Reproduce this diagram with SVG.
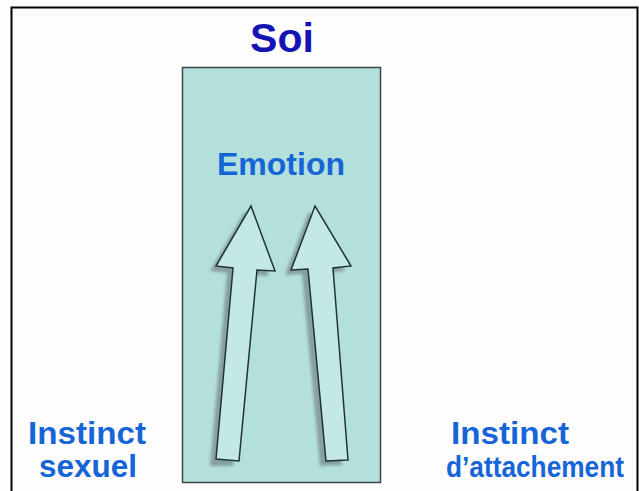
<svg xmlns="http://www.w3.org/2000/svg" width="639" height="491" viewBox="0 0 639 491">
<style>
.lbl{font-family:"Liberation Sans",Arial,sans-serif;font-weight:bold;fill:#1565d8;text-anchor:middle}
.side{font-size:32px}
.arrow{fill:#c4e8e6;stroke:#1e3434;stroke-width:1.5;stroke-linejoin:miter}
.shadow{fill:#7f9494;opacity:0.85}
</style>
<defs>
<filter id="blur" x="-20%" y="-20%" width="140%" height="140%"><feGaussianBlur stdDeviation="1.5"/></filter>
</defs>
<rect x="0" y="0" width="639" height="491" fill="#fdfdfd"/>
<path d="M11.5 495 V7.5 H637.5 V495" fill="none" stroke="#000" stroke-width="2"/>
<g id="soi"><text x="282" y="52" class="lbl" style="font-size:41px;fill:#1414b4">Soi</text></g>
<g id="box"><rect x="182.5" y="67.5" width="198" height="415" fill="#b4e0dc" stroke="#3c4848" stroke-width="1.5"/></g>
<g id="emotion"><text x="281" y="175" class="lbl" style="font-size:32px">Emotion</text></g>
<g id="connectors">
<g filter="url(#blur)">
<polygon class="shadow" points="245,211 210,271 227,273 210,466 233,466 251,275 269,276"/>
<polygon class="shadow" points="309,211 285,275 302,274 320,466 342,465 327,273 345,271"/>
</g>
<polygon class="arrow" points="251,206 216,266 233,268 216,459 239,461 257,270 275,271"/>
<polygon class="arrow" points="315,206 291,270 308,269 326,461 348,460 333,268 351,266"/>
</g>
<g id="sexuel"><text x="87" y="444" class="lbl side" textLength="118" lengthAdjust="spacingAndGlyphs">Instinct</text><text x="88" y="477" class="lbl side" textLength="98" lengthAdjust="spacingAndGlyphs">sexuel</text></g>
<g id="attachement"><text x="510" y="444" class="lbl side" textLength="118" lengthAdjust="spacingAndGlyphs">Instinct</text><text x="535" y="477" class="lbl" style="font-size:30px" textLength="178" lengthAdjust="spacingAndGlyphs">d’attachement</text></g>
</svg>
